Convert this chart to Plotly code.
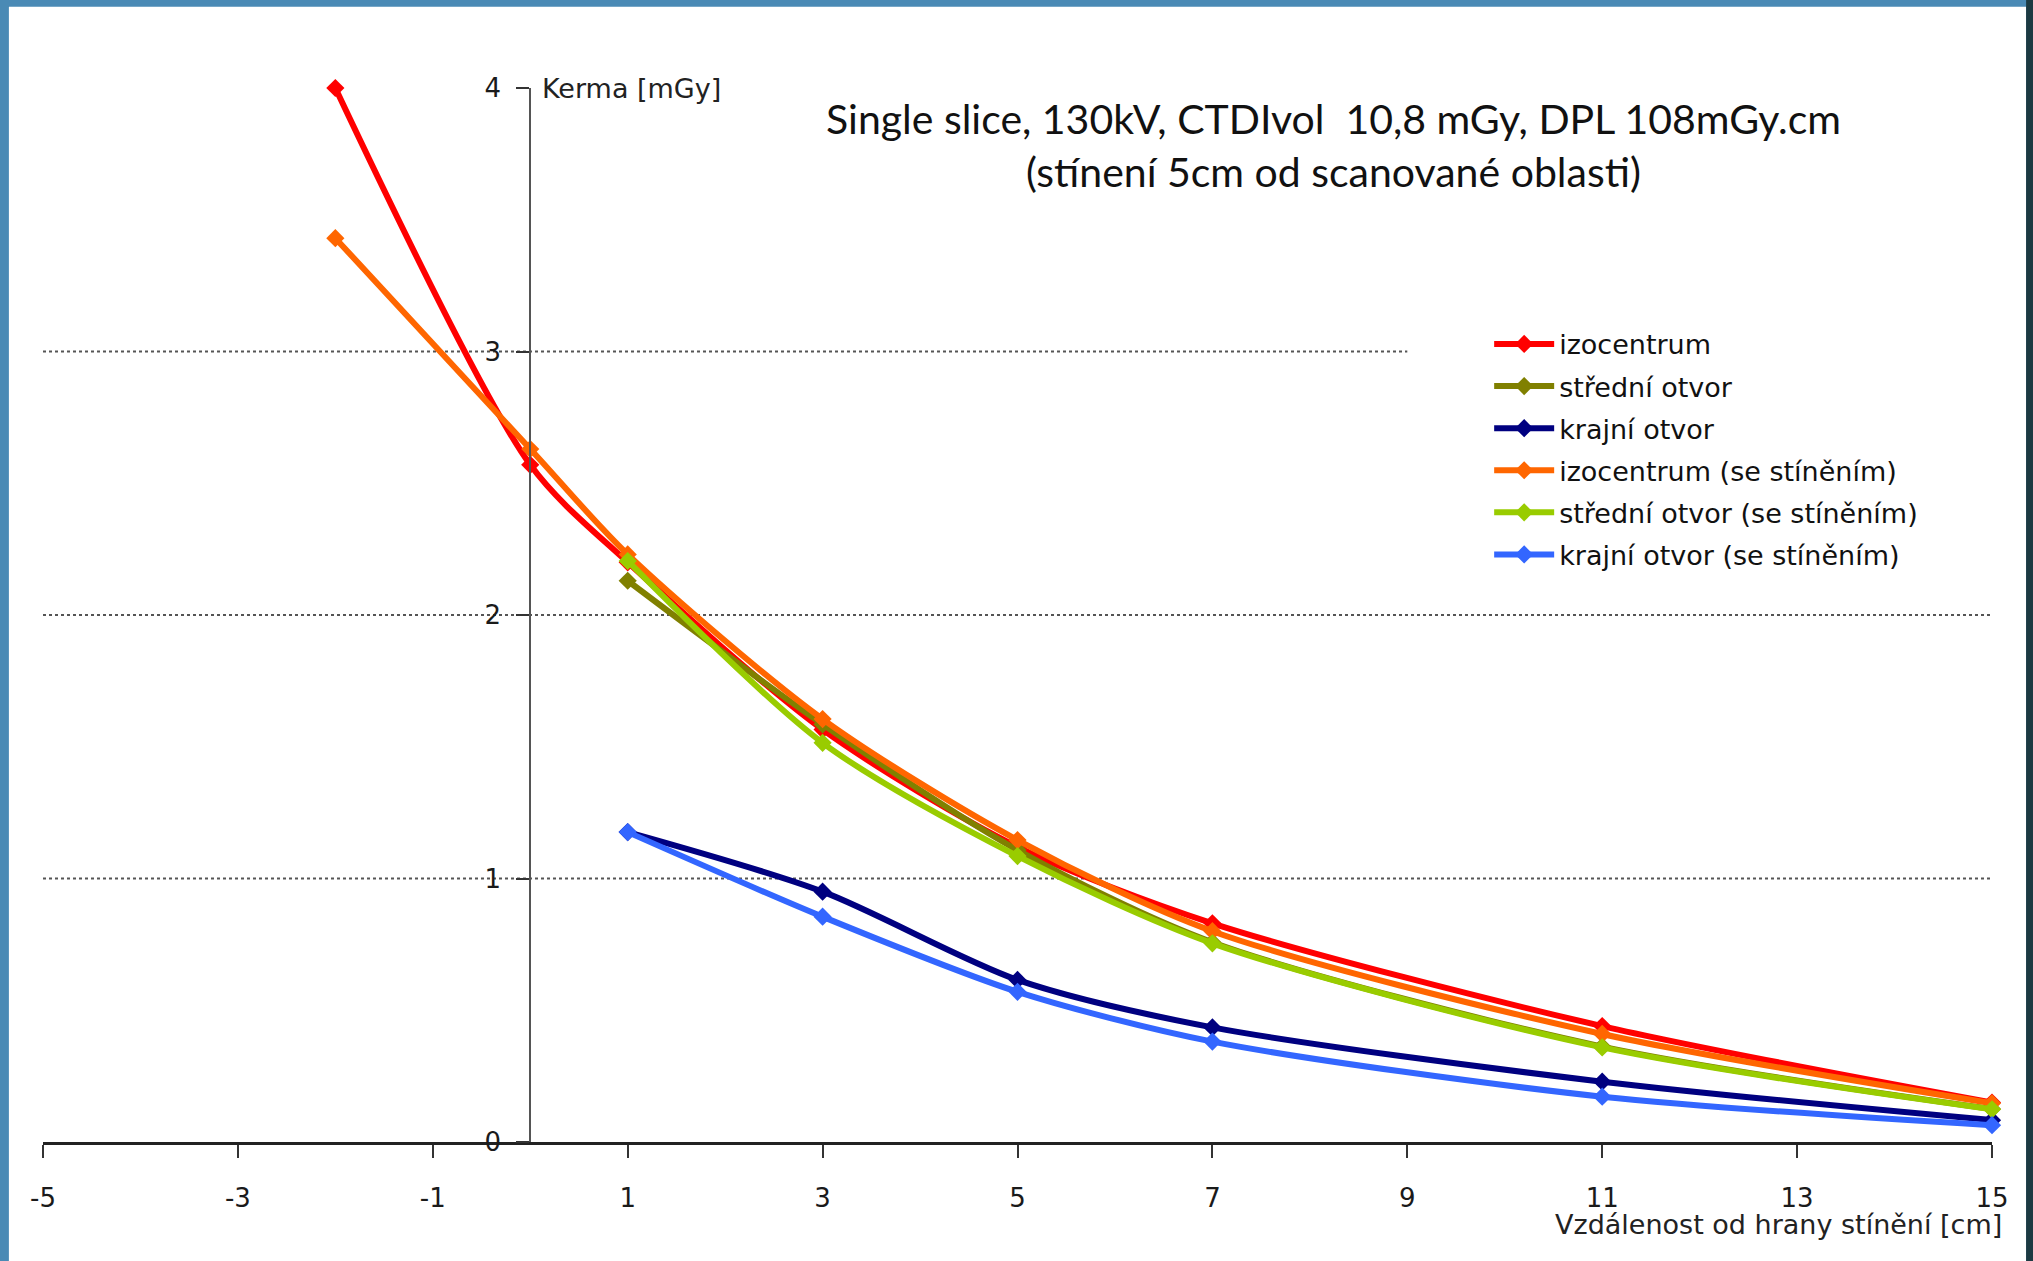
import plotly.graph_objects as go

# ---- data ----
x_izo = [-2, 0, 1, 3, 5, 7, 11, 15]
x_otv = [1, 3, 5, 7, 11, 15]
izocentrum = [4.0, 2.57, 2.20, 1.565, 1.12, 0.83, 0.44, 0.15]
izocentrum_st = [3.43, 2.63, 2.23, 1.605, 1.146, 0.80, 0.41, 0.147]
stredni = [2.13, 1.585, 1.108, 0.758, 0.362, 0.125]
stredni_st = [2.205, 1.515, 1.085, 0.754, 0.359, 0.124]
krajni = [1.176, 0.95, 0.615, 0.435, 0.229, 0.083]
krajni_st = [1.176, 0.855, 0.570, 0.381, 0.172, 0.064]

names = ["izocentrum", "střední otvor", "krajní otvor",
         "izocentrum (se stíněním)", "střední otvor (se stíněním)", "krajní otvor (se stíněním)"]
colors = ["#ff0000", "#808000", "#000080", "#ff6600", "#99cc00", "#3366ff"]
xs = [x_izo, x_otv, x_otv, x_izo, x_otv, x_otv]
ys = [izocentrum, stredni, krajni, izocentrum_st, stredni_st, krajni_st]

x_ticks = [-5, -3, -1, 1, 3, 5, 7, 9, 11, 13, 15]
y_ticks = [0, 1, 2, 3, 4]
grid_levels = [1, 2, 3]
grid_ends = [15, 15, 9]

TICKFONT = "DejaVu Sans"

fig = go.Figure()
for n, c, x, y in zip(names, colors, xs, ys):
    fig.add_trace(go.Scatter(
        x=x, y=y, name=n, mode="lines+markers",
        line=dict(color=c, width=6, shape="spline", smoothing=0.8),
        marker=dict(symbol="diamond", size=14, color=c),
        legendgroup=n, cliponaxis=False,
    ))

shapes = []
# background frame
shapes.append(dict(type="rect", xref="paper", yref="paper", x0=-0.0175, x1=1.0175,
                   y0=-0.12, y1=1.077, fillcolor="white", line=dict(width=0), layer="below"))
shapes.append(dict(type="rect", xref="paper", yref="paper", x0=1.0175, x1=1.03,
                   y0=-0.12, y1=1.1, fillcolor="#1c3a42", line=dict(width=0), layer="below"))
for lv, xe in zip(grid_levels, grid_ends):
    shapes.append(dict(type="line", xref="x", yref="y", x0=-5, x1=xe, y0=lv, y1=lv,
                       line=dict(color="#555555", width=2, dash="dot"), layer="below"))

fig.update_layout(
    width=2033, height=1261,
    margin=dict(l=43, r=41, t=88, b=119),
    paper_bgcolor="#4a8ab5",
    plot_bgcolor="rgba(0,0,0,0)",
    shapes=shapes,
    showlegend=True,
    legend=dict(x=0.742, y=0.78, xanchor="left", yanchor="top",
                bgcolor="white", borderwidth=0,
                font=dict(family=TICKFONT, size=27, color="#111111"),
                tracegroupgap=4, itemwidth=60),
    xaxis=dict(range=[-5, 15], tickvals=x_ticks, ticktext=[str(v) for v in x_ticks],
               showgrid=False, zeroline=False, showline=True, linecolor="#222222", linewidth=2.5,
               ticks="outside", ticklen=13, tickwidth=1.5, tickcolor="#333333",
               tickfont=dict(family=TICKFONT, size=26, color="#1a1a1a"),
               ticklabelstandoff=18, anchor="y"),
    yaxis=dict(range=[0, 4], tickvals=y_ticks, ticktext=[str(v) for v in y_ticks],
               showgrid=False, zeroline=False, showline=True, linecolor="#555555", linewidth=2,
               ticks="outside", ticklen=13, tickwidth=1.5, tickcolor="#333333",
               tickfont=dict(family=TICKFONT, size=26, color="#1a1a1a"),
               anchor="free", position=0.25, ticklabelstandoff=10),
    annotations=[
        dict(text="Single slice, 130kV, CTDIvol  10,8 mGy, DPL 108mGy.cm<br>(stínení 5cm od scanované oblasti)",
             xref="paper", yref="paper", x=0.662, y=0.946, xanchor="center", yanchor="middle",
             showarrow=False, align="center",
             font=dict(family="Lato", size=41, color="#111111")),
        dict(text="Kerma [mGy]", xref="x", yref="y", x=0.1, y=4.0, xanchor="left", yanchor="middle",
             showarrow=False, font=dict(family=TICKFONT, size=27, color="#222222")),
        dict(text="Vzdálenost od hrany stínění [cm]", xref="paper", yref="paper", x=1.006, y=-0.078,
             xanchor="right", yanchor="middle", showarrow=False,
             font=dict(family=TICKFONT, size=27, color="#222222")),
    ],
)

fig.write_html(
    "out.html",
    config={"displayModeBar": False},
    post_script="document.body.style.margin='0';document.body.style.overflow='hidden';"
                "document.body.style.background='#4a8ab5';",
)
